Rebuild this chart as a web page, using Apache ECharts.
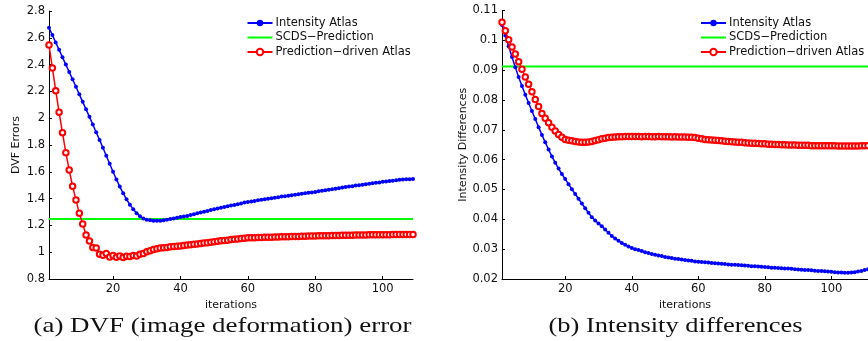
<!DOCTYPE html>
<html><head><meta charset="utf-8">
<script src="https://cdn.jsdelivr.net/npm/echarts@6/dist/echarts.min.js"></script>
<style>html,body{margin:0;padding:0;background:#fff}#c{width:868px;height:341px}</style>
</head><body><div id="c"></div>
<script>
// ---- data ----
const seriesNames = ['Intensity Atlas', 'SCDS\u2212Prediction', 'Prediction\u2212driven Atlas'];
const xTickLabels = [20, 40, 60, 80, 100];
const dvfIntensityAtlas = [2.675,2.62,2.565,2.51,2.455,2.40,2.345,2.29,2.235,2.178,2.122,2.066,2.01,1.953,1.895,1.838,1.78,1.72,1.66,1.60,
 1.543,1.49,1.44,1.395,1.355,1.32,1.29,1.268,1.252,1.243,1.238,1.235,1.234,1.235,1.238,1.242,1.247,1.252,1.257,1.262,
 1.266,1.271,1.277,1.283,1.29,1.296,1.302,1.308,1.314,1.32,1.326,1.332,1.337,1.342,1.348,1.353,1.358,1.364,1.37,1.375,
 1.379,1.383,1.387,1.391,1.395,1.399,1.403,1.407,1.411,1.415,1.418,1.422,1.425,1.429,1.432,1.436,1.44,1.443,1.446,1.45,
 1.454,1.458,1.462,1.466,1.47,1.474,1.478,1.482,1.486,1.49,1.493,1.497,1.50,1.504,1.507,1.511,1.514,1.518,1.521,1.525,
 1.528,1.531,1.534,1.537,1.540,1.542,1.544,1.545,1.546];
const dvfSCDS = 1.248;
const dvfPredAtlas = [2.546,2.375,2.205,2.044,1.892,1.743,1.613,1.492,1.39,1.29,1.21,1.128,1.084,1.036,1.031,0.984,0.978,0.99,0.965,0.975,
 0.962,0.972,0.96,0.97,0.968,0.975,0.972,0.985,0.99,1.004,1.01,1.021,1.025,1.032,1.034,1.036,1.04,1.042,1.045,1.046,
 1.05,1.053,1.056,1.059,1.061,1.065,1.068,1.07,1.074,1.078,1.082,1.085,1.087,1.09,1.094,1.096,1.099,1.102,1.104,1.107,
 1.108,1.108,1.109,1.11,1.111,1.112,1.112,1.113,1.114,1.115,1.115,1.116,1.117,1.117,1.118,1.119,1.119,1.12,1.12,1.121,
 1.122,1.122,1.123,1.123,1.124,1.125,1.125,1.126,1.126,1.127,1.127,1.128,1.128,1.129,1.129,1.13,1.13,1.13,1.131,1.131,
 1.131,1.131,1.132,1.132,1.132,1.132,1.132,1.132,1.132];
const intIntensityAtlas = [0.1051,0.1016,0.0980,0.0944,0.0910,0.0877,0.0847,0.0818,0.0790,0.0763,0.0736,0.0709,0.0683,0.0658,0.0634,0.0611,0.0590,0.0570,0.0552,0.0535,
 0.0518,0.0501,0.0485,0.0469,0.0453,0.0437,0.0422,0.0407,0.0396,0.0386,0.0377,0.0366,0.0355,0.0344,0.0336,0.0328,0.0321,0.0315,0.0309,0.0304,
 0.0300,0.0297,0.0294,0.0290,0.0287,0.0284,0.0281,0.0279,0.0277,0.0274,0.0272,0.0270,0.0268,0.0267,0.0265,0.0264,0.0262,0.0261,0.0259,0.0258,
 0.0257,0.0256,0.0255,0.0254,0.0253,0.0252,0.0251,0.0250,0.0249,0.0248,0.0248,0.0247,0.0246,0.0245,0.0244,0.0243,0.0243,0.0242,0.0241,0.0240,
 0.0239,0.0238,0.0238,0.0237,0.0236,0.0235,0.0235,0.0234,0.0233,0.0232,0.0231,0.0230,0.0230,0.0229,0.0228,0.0227,0.0227,0.0226,0.0225,0.0224,
 0.0223,0.0222,0.0222,0.0221,0.0221,0.0222,0.0223,0.0225,0.0227,0.0230,0.0233];
const intSCDS = 0.0912;
const intPredAtlas = [0.1061,0.1032,0.1002,0.0978,0.0954,0.0928,0.0903,0.0877,0.0853,0.0828,0.0802,0.0778,0.0755,0.0739,0.0724,0.0709,0.0696,0.0684,0.0675,0.0668,
 0.0665,0.0663,0.0661,0.0659,0.0658,0.0658,0.0659,0.0661,0.0664,0.0667,0.0670,0.0672,0.0674,0.0675,0.0676,0.0677,0.0677,0.0678,0.0678,0.0678,
 0.0678,0.0678,0.0677,0.0678,0.0678,0.0677,0.0677,0.0678,0.0677,0.0677,0.0677,0.0676,0.0677,0.0676,0.0676,0.0676,0.0675,0.0675,0.0674,0.0672,
 0.0670,0.0668,0.0667,0.0666,0.0665,0.0664,0.0663,0.0662,0.0661,0.0660,0.0659,0.0658,0.0658,0.0657,0.0656,0.0655,0.0655,0.0654,0.0653,0.0653,
 0.0652,0.0652,0.0651,0.0651,0.0650,0.0650,0.0649,0.0649,0.0649,0.0648,0.0648,0.0648,0.0648,0.0647,0.0647,0.0647,0.0647,0.0647,0.0647,0.0647,
 0.0647,0.0646,0.0646,0.0646,0.0646,0.0646,0.0646,0.0646,0.0647,0.0647,0.0647];
const captions = ['(a) DVF (image deformation) error', '(b) Intensity differences'];

// ---- build ----
const pairs = arr => arr.map((v, i) => [i + 1, v]);
const flat = (v, n) => [[1, v], [n, v]];
const BLUE = '#0000ff', GREEN = '#00ff00', RED = '#ff0000', TXT = '#111';
const font = '"DejaVu Sans", sans-serif';

function xAx(idx, max) {
  return {
    gridIndex: idx, type: 'value', min: 1, max: max,
    name: 'iterations', nameLocation: 'middle', nameGap: 13,
    nameTextStyle: { fontFamily: font, fontSize: 11, color: TXT },
    axisLine: { lineStyle: { color: '#000', width: 1 } },
    axisTick: { inside: true, length: 3, lineStyle: { color: '#000' }, customValues: xTickLabels },
    axisLabel: { fontFamily: font, fontSize: 11.5, color: TXT, margin: 4, customValues: xTickLabels },
    splitLine: { show: false }
  };
}
function yAx(idx, min, max, interval, dec, name, gap) {
  return {
    gridIndex: idx, type: 'value', min: min, max: max, interval: interval,
    name: name, nameLocation: 'middle', nameGap: gap,
    nameTextStyle: { fontFamily: font, fontSize: 11, color: TXT },
    axisLine: { show: true, lineStyle: { color: '#000', width: 1 } },
    axisTick: { show: true, inside: true, length: 3, lineStyle: { color: '#000' } },
    axisLabel: { fontFamily: font, fontSize: 11.5, color: TXT, margin: 4,
      formatter: v => String(+v.toFixed(dec)) },
    splitLine: { show: false }
  };
}
function blueS(idx, d) {
  return { name: seriesNames[0], type: 'line', xAxisIndex: idx, yAxisIndex: idx, data: d,
    symbol: 'circle', symbolSize: 4, showAllSymbol: true,
    lineStyle: { color: BLUE, width: 1.5 }, itemStyle: { color: BLUE }, z: 3 };
}
function greenS(idx, d) {
  return { name: seriesNames[1], type: 'line', xAxisIndex: idx, yAxisIndex: idx, data: d,
    symbol: 'none', lineStyle: { color: GREEN, width: 2 }, itemStyle: { color: GREEN }, z: 2 };
}
function redS(idx, d) {
  return { name: seriesNames[2], type: 'line', xAxisIndex: idx, yAxisIndex: idx, data: d,
    symbol: 'emptyCircle', symbolSize: 5.5, showAllSymbol: true,
    lineStyle: { color: RED, width: 1.5 }, itemStyle: { color: RED, borderColor: RED, borderWidth: 1 }, z: 4 };
}
function legend(left) {
  return { orient: 'vertical', left: left, top: 17, itemWidth: 25, itemHeight: 8, itemGap: 2.5,
    padding: 0,
    data: [seriesNames[0], { name: seriesNames[1], itemStyle: { opacity: 0 } }, seriesNames[2]],
    textStyle: { fontFamily: font, fontSize: 11.5, lineHeight: 12, color: TXT, padding: [0, 0, 0, -2] } };
}

// caption width fitting (reference captions are horizontally stretched)
const capFont = '21px "Liberation Serif"';
const ctx = document.createElement('canvas').getContext('2d');
ctx.font = capFont;
const capTargets = [{ cx: 222.5, w: 378 }, { cx: 675.5, w: 254 }];
const capGraphics = captions.map((t, i) => ({
  type: 'text', x: capTargets[i].cx, y: 326,
  scaleX: capTargets[i].w / ctx.measureText(t).width,
  style: { text: t, font: capFont, fill: '#111', x: 0, y: 0, align: 'center', verticalAlign: 'middle' }
}));

const chart = echarts.init(document.getElementById('c'), null, { renderer: 'canvas' });
chart.setOption({
  animation: false,
  backgroundColor: '#fff',
  grid: [
    { left: 49, top: 11, width: 364, height: 268 },
    { left: 502, top: 10.5, width: 366, height: 268.5 }
  ],
  xAxis: [xAx(0, 109), xAx(1, 111)],
  yAxis: [yAx(0, 0.8, 2.8, 0.2, 1, 'DVF Errors', 27), yAx(1, 0.02, 0.11, 0.01, 2, 'Intensity Differences', 33)],
  legend: [legend(246.5), legend(700)],
  series: [
    blueS(0, pairs(dvfIntensityAtlas)), greenS(0, flat(dvfSCDS, 109)), redS(0, pairs(dvfPredAtlas)),
    blueS(1, pairs(intIntensityAtlas)), greenS(1, flat(intSCDS, 111)), redS(1, pairs(intPredAtlas))
  ],
  graphic: capGraphics
});
</script></body></html>
